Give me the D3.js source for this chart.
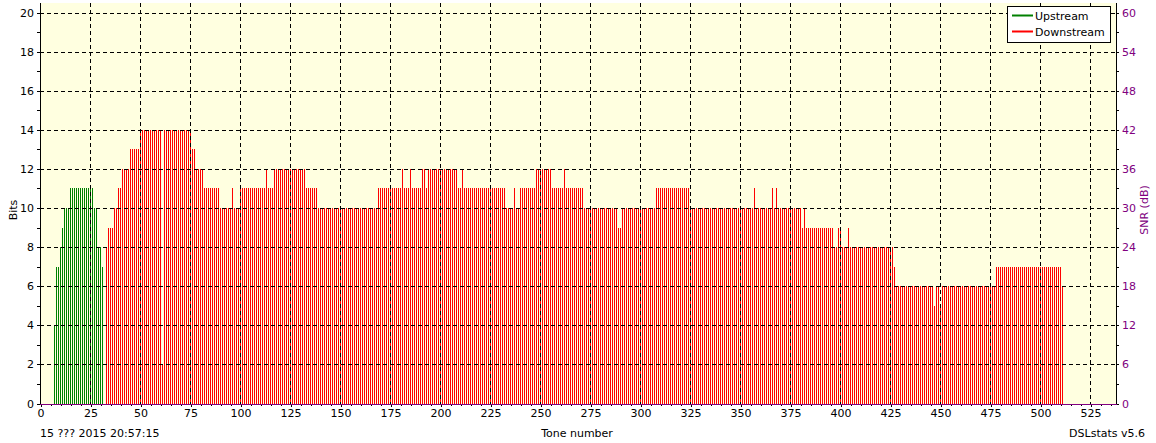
<!DOCTYPE html>
<html>
<head>
<meta charset="utf-8">
<script src="https://cdn.jsdelivr.net/npm/d3@7"></script>
<style>
  body { margin: 0; background: #fff; }
  svg { display: block; font-family: "DejaVu Sans", sans-serif; font-size: 11px; }
</style>
</head>
<body>
<svg id="chart" width="1156" height="443"></svg>
<script>
// bits per tone: [firstTone, lastTone, bits]
const upstreamRuns = [
  [7, 7, 4], [8, 9, 7], [10, 10, 8], [11, 11, 9], [12, 14, 10], [15, 26, 11],
  [27, 28, 10], [29, 30, 8], [31, 31, 7]
];
const downstreamRuns = [
  [33, 33, 8], [34, 36, 9], [37, 38, 10], [39, 40, 11], [41, 44, 12], [45, 49, 13],
  [50, 60, 14], [61, 61, 2], [62, 75, 14], [76, 77, 13], [78, 81, 12], [82, 89, 11],
  [90, 95, 10], [96, 96, 11], [97, 99, 10], [100, 112, 11], [113, 113, 12], [114, 116, 11],
  [117, 132, 12], [133, 138, 11], [139, 168, 10], [169, 180, 11], [181, 181, 12], [182, 184, 11],
  [185, 185, 12], [186, 190, 11], [191, 192, 12], [193, 193, 11], [194, 208, 12], [209, 210, 11],
  [211, 211, 12], [212, 232, 11], [233, 236, 10], [237, 237, 11], [238, 239, 10], [240, 247, 11],
  [248, 255, 12], [256, 261, 11], [262, 262, 12], [263, 271, 11], [272, 288, 10], [289, 290, 9],
  [291, 307, 10], [308, 324, 11], [325, 356, 10], [357, 357, 11], [358, 365, 10], [366, 366, 11],
  [367, 367, 10], [368, 368, 11], [369, 380, 10], [381, 381, 9], [382, 382, 10], [383, 396, 9],
  [397, 398, 8], [399, 400, 9], [401, 403, 8], [404, 404, 9], [405, 426, 8], [427, 427, 7],
  [428, 446, 6], [447, 447, 5], [448, 449, 6], [450, 450, 5], [451, 477, 6], [478, 510, 7],
  [511, 511, 6]
];
const toneTicks = [0, 25, 50, 75, 100, 125, 150, 175, 200, 225, 250, 275, 300, 325, 350, 375, 400, 425, 450, 475, 500, 525];
const bitTicks = [0, 2, 4, 6, 8, 10, 12, 14, 16, 18, 20];
const snrTicks = [0, 6, 12, 18, 24, 30, 36, 42, 48, 54, 60];
const legendItems = ['Upstream', 'Downstream'];

const plot = { left: 40, right: 1116, top: 3, bottom: 404 };
const colors = { up: '#008000', down: '#ff0000', snr: '#800080', bg: '#ffffe0' };

// unpack runs into one value per tone
function expand(runs) {
  let out = [];
  runs.forEach(([a, b, v]) => { for (let t = a; t <= b; t++) out.push({ tone: t, bits: v }); });
  return out;
}
let upstream = expand(upstreamRuns);
let downstream = expand(downstreamRuns);

let svg = d3.select('#chart');
let x = d3.scaleLinear().domain([0, 525]).range([40.5, 1090.5]);
let y = d3.scaleLinear().domain([0, 20]).range([403.5, 12.5]);
let ySnr = d3.scaleLinear().domain([0, 60]).range([403.5, 12.5]);

svg.append('rect')
  .attr('x', plot.left).attr('y', plot.top)
  .attr('width', plot.right - plot.left).attr('height', plot.bottom - plot.top)
  .attr('fill', colors.bg);

// bars
function drawBars(data, color) {
  svg.append('g').selectAll('rect').data(data).join('rect')
    .attr('x', d => Math.floor(x(d.tone)))
    .attr('y', d => Math.round(y(d.bits)))
    .attr('width', 1)
    .attr('height', d => Math.round(y(0)) - Math.round(y(d.bits)))
    .attr('fill', color)
    .attr('shape-rendering', 'crispEdges');
}
drawBars(upstream, colors.up);
drawBars(downstream, colors.down);

// dashed grid on top of the bars
let grid = svg.append('g').attr('stroke', '#000').attr('stroke-dasharray', '4,3')
  .attr('shape-rendering', 'crispEdges');
grid.selectAll('.gx').data(toneTicks.slice(1)).join('line')
  .attr('x1', d => Math.floor(x(d)) + 0.5).attr('x2', d => Math.floor(x(d)) + 0.5)
  .attr('y1', plot.top).attr('y2', plot.bottom);
grid.selectAll('.gy').data(bitTicks.slice(1)).join('line')
  .attr('x1', plot.left).attr('x2', plot.right)
  .attr('y1', d => Math.round(y(d)) + 0.5).attr('y2', d => Math.round(y(d)) + 0.5);

// axes
let minorBits = d3.range(1, 20, 2);
let minorTones = d3.range(0, 540, 5);
let minorSnr = d3.range(3, 60, 6);

let leftAxis = svg.append('g').attr('transform', `translate(${plot.left},0)`)
  .call(d3.axisLeft(y).tickValues(bitTicks).tickSize(3).tickPadding(3).tickFormat(d3.format('d')));
leftAxis.append('g').call(d3.axisLeft(y).tickValues(minorBits).tickSize(3).tickFormat(''));

let rightAxis = svg.append('g').attr('transform', `translate(${plot.right},0)`)
  .call(d3.axisRight(ySnr).tickValues(snrTicks).tickSize(3).tickPadding(3).tickFormat(d3.format('d')));
rightAxis.append('g').call(d3.axisRight(ySnr).tickValues(minorSnr).tickSize(3).tickFormat(''));
rightAxis.selectAll('text').attr('fill', colors.snr);

let bottomAxis = svg.append('g').attr('transform', `translate(0,${plot.bottom})`)
  .call(d3.axisBottom(x).tickValues(toneTicks).tickSize(3).tickPadding(2).tickFormat(d3.format('d')));
bottomAxis.append('g').call(d3.axisBottom(x).tickValues(minorTones).tickSize(2).tickFormat(''));

svg.selectAll('.domain').remove();
svg.selectAll('.tick line').attr('stroke', '#000').attr('shape-rendering', 'crispEdges');
svg.selectAll('.tick text').attr('font-size', 11).attr('font-family', '"DejaVu Sans", sans-serif');

// frame lines
svg.append('line').attr('x1', plot.left + 0.5).attr('x2', plot.left + 0.5)
  .attr('y1', plot.top).attr('y2', plot.bottom + 1).attr('stroke', '#000');
svg.append('line').attr('x1', plot.right + 0.5).attr('x2', plot.right + 0.5)
  .attr('y1', plot.top).attr('y2', plot.bottom + 1).attr('stroke', '#000');
svg.append('line').attr('x1', plot.left).attr('x2', plot.right + 1)
  .attr('y1', plot.bottom + 0.5).attr('y2', plot.bottom + 0.5).attr('stroke', colors.snr);

// axis titles and footer text
svg.append('text').attr('transform', 'translate(17,210) rotate(-90)')
  .attr('text-anchor', 'middle').attr('fill', '#000').text('Bits');
svg.append('text').attr('transform', 'translate(1148,210) rotate(-90)')
  .attr('text-anchor', 'middle').attr('fill', colors.snr).text('SNR (dB)');
svg.append('text').attr('x', 577).attr('y', 437).attr('text-anchor', 'middle').text('Tone number');
svg.append('text').attr('x', 40).attr('y', 437).text('15 ??? 2015 20:57:15');
svg.append('text').attr('x', 1145).attr('y', 437).attr('text-anchor', 'end').text('DSLstats v5.6');

// legend
let legend = svg.append('g').attr('transform', 'translate(1007,6)');
legend.append('rect').attr('x', 0.5).attr('y', 0.5).attr('width', 103).attr('height', 36)
  .attr('fill', '#fff').attr('stroke', '#000');
legend.selectAll('g.item').data(legendItems).join('g')
  .attr('transform', (d, i) => `translate(0,${9 + i * 16})`)
  .each(function (d, i) {
    let g = d3.select(this);
    g.append('line').attr('x1', 5).attr('x2', 26).attr('y1', 0.5).attr('y2', 0.5)
      .attr('stroke', i === 0 ? colors.up : colors.down).attr('stroke-width', 2);
    g.append('text').attr('x', 28).attr('y', 5).text(d);
  });
</script>
</body>
</html>
